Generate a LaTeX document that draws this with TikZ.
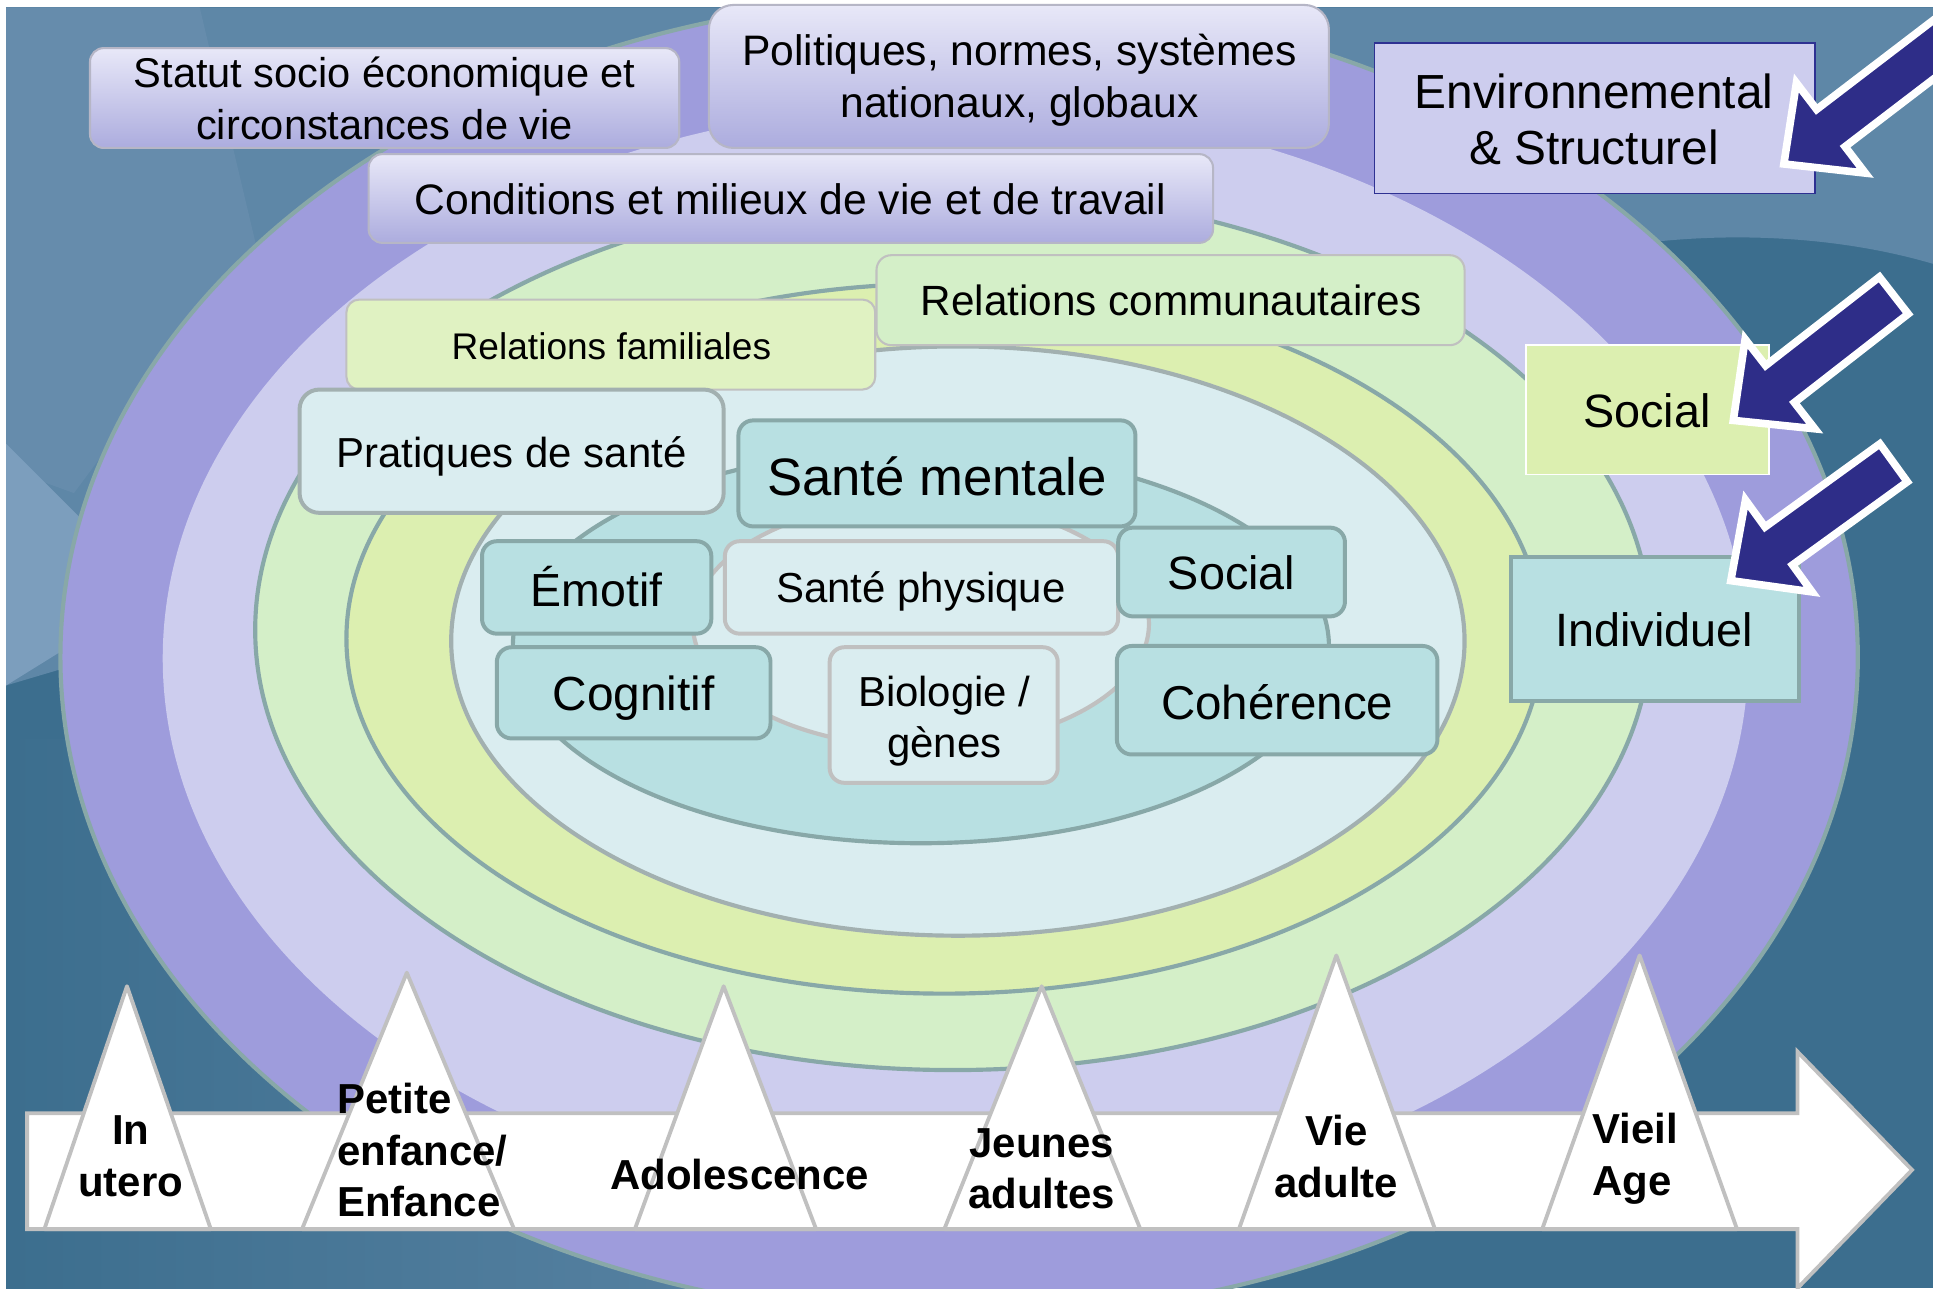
\documentclass[tikz,border=0pt]{standalone}
\usepackage{fontspec}
\setmainfont{Liberation Sans}
\usetikzlibrary{calc}

\definecolor{bgdark}{HTML}{3C6E8E}
\definecolor{bglight}{HTML}{5E87A7}
\definecolor{bglighter}{HTML}{668CAC}
\definecolor{bgstreak}{HTML}{7C9EBD}
\definecolor{bgshade}{HTML}{6088A8}
\definecolor{ringpurple}{HTML}{9E9CDC}
\definecolor{ringlav}{HTML}{CDCDEE}
\definecolor{ringgreen}{HTML}{D4EFC8}
\definecolor{ringyellow}{HTML}{DCEFB0}
\definecolor{ringpale}{HTML}{DAEDF0}
\definecolor{ringcyan}{HTML}{B8E0E2}
\definecolor{ringedge}{HTML}{88A8A8}
\definecolor{paleedge}{HTML}{A2B0B0}
\definecolor{greyedge}{HTML}{C0C0C0}
\definecolor{boxtop}{HTML}{E8E8F8}
\definecolor{boxbottom}{HTML}{ACACDE}
\definecolor{boxedge}{HTML}{B6B6C6}
\definecolor{famfill}{HTML}{E0F2C2}
\definecolor{navy}{HTML}{2E2D88}
\definecolor{envedge}{HTML}{2E3192}

\tikzset{
	ring/.style={draw=ringedge, line width=1.2pt},
	topbox/.style={top color=boxtop, bottom color=boxbottom, draw=boxedge, line width=0.6pt, rounded corners=1.4mm},
	relbox/.style={draw=greyedge, line width=0.6pt, rounded corners=1.3mm},
	cyanbox/.style={fill=ringcyan, draw=ringedge, line width=1.15pt, rounded corners=1.5mm},
	palebox/.style={fill=ringpale, draw=greyedge, line width=1.15pt, rounded corners=1.5mm},
	stagetri/.style={fill=white, draw=greyedge, line width=1.1pt, line join=round},
	stagelabel/.style={font=\bfseries\fontsize{12.1}{14.8}\selectfont, align=center, inner sep=0pt},
	txt/.style={font=\fontsize{#1}{14.9}\selectfont, align=center, inner sep=0pt},
	bigarrow/.style={fill=navy, draw=white, line width=2.2pt, line join=miter},
}

% navy arrow: tip (x,y), direction angle, length
\def\navyarrow(#1,#2)[#3:#4]{\draw[bigarrow, shift={(#1,#2)}, rotate=#3] (0,0) -- (-48,-46) -- (-48,-19) -- (-#4,-19) -- (-#4,19) -- (-48,19) -- (-48,46) -- cycle;}

\begin{document}
\begin{tikzpicture}[x=0.125mm, y=-0.125mm]
		%%%%% START %%%%%
		\useasboundingbox (0,0) rectangle (1568,1045);
		\fill[white] (0,0) rectangle (1568,1045);
		
		\begin{scope}
		\clip (5,6) rectangle (1568,1045);
		
		% background
		\fill[bgdark] (5,6) rectangle (1568,1045);
		\shade[left color=bgdark, right color=bgshade] (5,600) rectangle (800,1045);
		\fill[bglight] (5,6) -- (1568,6) -- (1568,214) .. controls (1500,194) and (1420,188) .. (1343,196) -- (800,320) -- (5,556) -- cycle;
		\fill[bglighter] (5,6) -- (162,6) -- (208,200) -- (60,400) -- (5,380) -- cycle;
		\fill[bgstreak] (5,360) -- (70,425) -- (55,525) -- (5,556) -- cycle;
		
		% rings
		\draw[ring, fill=ringpurple, draw=ringedge] (778,533) ellipse [x radius=729, y radius=536];
		\fill[ringlav] (775,534) ellipse [x radius=643, y radius=450];
		\draw[ring, fill=ringgreen] (773,511) ellipse [x radius=566, y radius=357];
		\draw[ring, fill=ringyellow] (766,518) ellipse [x radius=485, y radius=288];
		\draw[ring, fill=ringpale, draw=paleedge] (777,520) ellipse [x radius=411, y radius=239];
		\draw[ring, fill=ringcyan] (747,524) ellipse [x radius=331, y radius=160];
		\draw[ring, fill=ringpale, draw=greyedge] (747,506) ellipse [x radius=185, y radius=100];
		\end{scope}
		
		% determinant boxes
		\draw[topbox] (73,39) rectangle (551,120);
		\draw[topbox, rounded corners=2.5mm] (575,4) rectangle (1078,120);
		\draw[topbox] (299,125) rectangle (984,197);
		\draw[relbox, fill=ringgreen, rounded corners=1.5mm] (711,207) rectangle (1188,280);
		\draw[relbox, fill=famfill] (281,243) rectangle (710,316);
		\draw[palebox, draw=paleedge, rounded corners=2mm] (243,316) rectangle (587,416);
		\draw[cyanbox] (599,341) rectangle (921,427);
		\draw[palebox] (588,439) rectangle (907,514);
		\draw[cyanbox] (391,439) rectangle (577,514);
		\draw[cyanbox] (907,428) rectangle (1091,500);
		\draw[cyanbox] (403,525) rectangle (625,599);
		\draw[palebox] (673,525) rectangle (858,635);
		\draw[cyanbox] (906,524) rectangle (1166,612);
		
		% level boxes
		\draw[fill=ringlav, draw=envedge, line width=0.5pt] (1115,35) rectangle (1472,157);
		\draw[fill=ringyellow, draw=white, line width=0.5pt] (1238,280) rectangle (1435,385);
		\draw[fill=ringcyan, draw=ringedge, line width=1.15pt] (1226,452) rectangle (1459,569);
		
		\node[txt=12.0] (statut) at (312,80) {Statut socio économique et\\circonstances de vie};
		\node[txt=12.3] (politiques) at (827,65) {Politiques, normes, systèmes\\nationaux, globaux};
		\node[txt=12.3] (conditions) at (641,162) {Conditions et milieux de vie et de travail};
		\node[txt=12.2] (communautaires) at (950,244) {Relations communautaires};
		\node[txt=10.7] (familiales) at (496,281) {Relations familiales};
		\node[txt=12.1] (pratiques) at (415,370) {Pratiques de santé};
		\node[txt=15.2] (mentale) at (760,386) {Santé mentale};
		\node[txt=12.1] (physique) at (747,480) {Santé physique};
		\node[txt=13.4] (emotif) at (484,476) {Émotif};
		\node[txt=13.5] (socialin) at (999,465) {Social};
		\node[txt=13.8] (cognitif) at (514,566) {Cognitif};
		\node[txt=12.1] (biologie) at (766,585) {Biologie /\\gènes};
		\node[txt=13.7] (coherence) at (1036,570) {Cohérence};
		
		\node[font=\fontsize{13.8}{16}\selectfont, align=center, inner sep=0pt] (environ) at (1293,97) {Environnemental\\\& Structurel};
		\node[txt=13.5] (socialout) at (1336,333) {Social};
		\node[txt=13.5] (individuel) at (1342,511) {Individuel};
		
		\begin{scope}
		\clip (5,6) rectangle (1568,1045);
		% influence arrows
		\navyarrow(1447,133)[-142.6:260]
		\navyarrow(1406,341)[-142.1:165]
		\navyarrow(1404,471)[-144.1:163]
		
		% life course
		\draw[fill=white, draw=greyedge, line width=1.1pt] (22,903) -- (1458,903) -- (1458,853) -- (1551,949) -- (1458,1045) -- (1458,997) -- (22,997) -- cycle;
		\draw[stagetri] (36,997) -- (103,800) -- (171,997) -- cycle;
		\draw[stagetri] (245,997) -- (330,789) -- (417,997) -- cycle;
		\draw[stagetri] (515,997) -- (587,800) -- (662,997) -- cycle;
		\draw[stagetri] (766,997) -- (845,800) -- (925,997) -- cycle;
		\draw[stagetri] (1005,997) -- (1084,775) -- (1164,997) -- cycle;
		\draw[stagetri] (1251,997) -- (1330,775) -- (1409,997) -- cycle;
		\end{scope}
		
		\node[stagelabel] (utero) at (106,938) {In\\utero};
		\node[stagelabel, align=left, anchor=west] (enfance) at (273,933) {Petite\\enfance/\\Enfance};
		\node[stagelabel] (ado) at (600,953) {Adolescence};
		\node[stagelabel] (jeunes) at (845,948) {Jeunes\\adultes};
		\node[stagelabel] (adulte) at (1084,938) {Vie\\adulte};
		\node[stagelabel, align=left, anchor=west] (vieil) at (1291,940) {Vieil\\Age};
		%%%%% END %%%%%
\end{tikzpicture}
\end{document}
